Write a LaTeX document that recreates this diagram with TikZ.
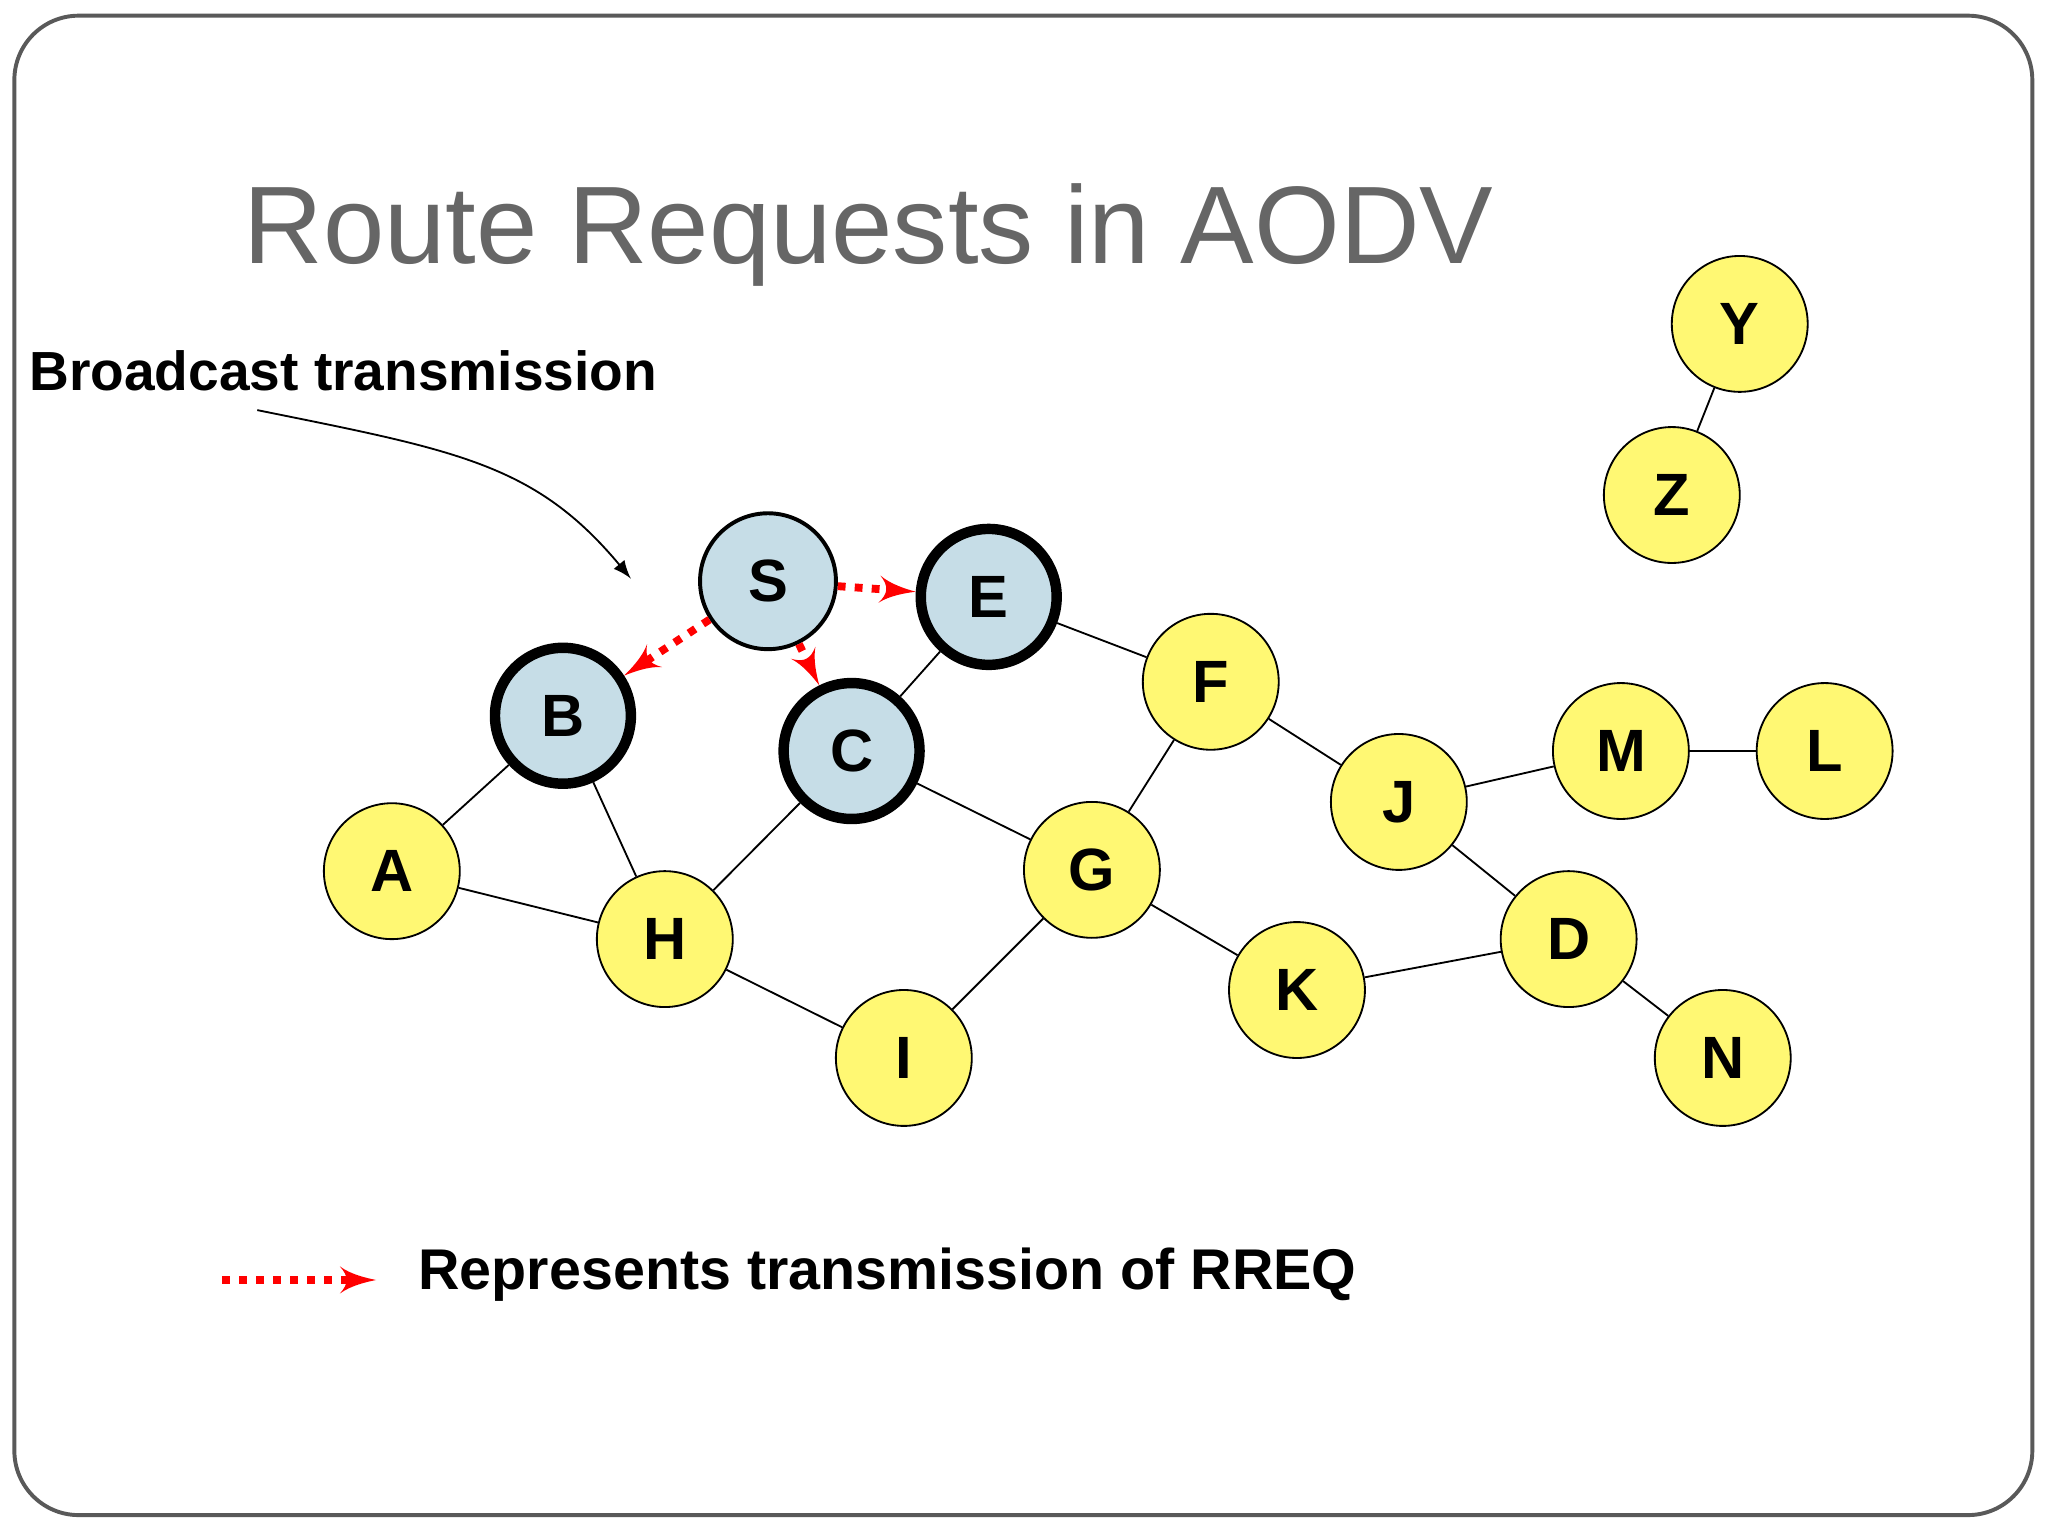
\documentclass[tikz,border=0pt]{standalone}
\usepackage{fontspec}
\setmainfont{Liberation Sans}
\usetikzlibrary{positioning}
\usetikzlibrary{shapes, arrows}
\tikzstyle{line} = [draw, black]
\tikzstyle{rreq} = [draw, red, line width=0.6mm, dotted, -latex']
\tikzstyle{plain} = [circle, draw, fill=yellow!55, minimum size=10.4mm, inner sep=0pt, font=\fontsize{13}{13}\selectfont\bfseries]
\tikzstyle{reached} = [plain, fill=cyan!20!teal!25, line width=0.8mm]

\begin{document}
\begin{tikzpicture}[x=0.01cm, y=-0.01cm]
			\useasboundingbox (0,0) rectangle (1568,1176);
			\draw[rounded corners=14pt, line width=0.3mm, gray!70!black] (11,12) rectangle (1556,1160);
			\node[text=black!60, font=\fontsize{24}{24}\selectfont] (title) at (665,180) {Route Requests in AODV};
			\node[font=\fontsize{12}{12}\selectfont\bfseries, anchor=west] (bcast) at (10,284) {Broadcast transmission};
			
			\node[reached, line width=0.3mm] (S) at (588,445) {S};
			\node[reached] (E) at (757,457) {E};
			\node[reached] (B) at (431,548) {B};
			\node[reached] (C) at (652,575) {C};
			\node[plain] (A) at (300,667) {A};
			\node[plain] (H) at (509,719) {H};
			\node[plain] (I) at (692,810) {I};
			\node[plain] (G) at (836,666) {G};
			\node[plain] (F) at (927,522) {F};
			\node[plain] (J) at (1071,614) {J};
			\node[plain] (M) at (1241,575) {M};
			\node[plain] (L) at (1397,575) {L};
			\node[plain] (D) at (1201,719) {D};
			\node[plain] (K) at (993,758) {K};
			\node[plain] (N) at (1319,810) {N};
			\node[plain] (Y) at (1332,248) {Y};
			\node[plain] (Z) at (1280,379) {Z};
			
			\foreach \a/\b in {Y/Z, E/F, E/C, B/A, B/H, A/H, C/H, C/G, H/I, G/I, F/G, F/J, J/M, M/L, J/D, G/K, K/D, D/N}
				\draw[line] (\a) -- (\b);
			
			\draw[rreq] (S) -- (E);
			\draw[rreq] (S) -- (B);
			\draw[rreq] (S) -- (C);
			
			\coordinate (bstart) at (197,314);
			\coordinate (bend) at (483,443);
			\draw[black, -latex] (bstart) .. controls (350,345) and (410,355) .. (bend);
			
			\coordinate (lstart) at (170,980);
			\coordinate (lend) at (288,980);
			\draw[rreq] (lstart) -- (lend);
			\node[font=\fontsize{12.5}{12.5}\selectfont\bfseries, anchor=west] (legend) at (308,976) {Represents transmission of RREQ};
		\end{tikzpicture}
\end{document}
